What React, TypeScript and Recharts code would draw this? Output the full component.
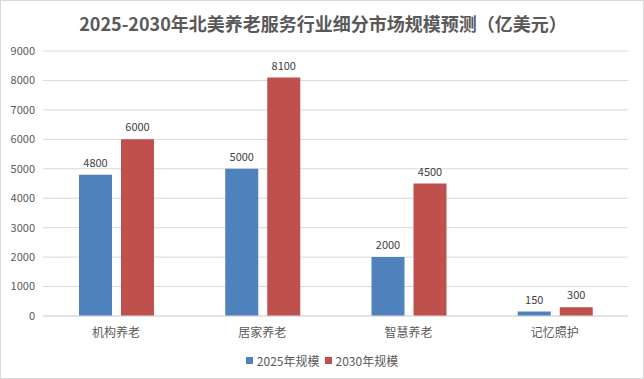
import React from 'react';
import { BarChart, Bar, XAxis, YAxis, CartesianGrid, Legend, LabelList } from 'recharts';

const categories = ['机构养老', '居家养老', '智慧养老', '记忆照护'];
const values2025 = [4800, 5000, 2000, 150];
const values2030 = [6000, 8100, 4500, 300];
const yTicks = [0, 1000, 2000, 3000, 4000, 5000, 6000, 7000, 8000, 9000];
const seriesNames = ['2025年规模', '2030年规模'];
const colors = ['#4F81BD', '#C0504D'];

const data = categories.map((c, i) => ({ name: c, a: values2025[i], b: values2030[i] }));

const FONT = '"Noto Sans CJK SC", "Noto Sans", sans-serif';

const LegendContent = () => (
  <div style={{ display: 'flex', justifyContent: 'center', paddingTop: 6, fontFamily: FONT, fontSize: 12, color: '#595959' }}>
    {seriesNames.map((n, i) => (
      <div key={n} style={{ display: 'flex', alignItems: 'center', marginLeft: i ? 5 : 0 }}>
        <span style={{ display: 'inline-block', width: 7, height: 7, background: colors[i], marginRight: 4 }} />
        <span>{n}</span>
      </div>
    ))}
  </div>
);

export default function App() {
  return (
    <div style={{ position: 'fixed', left: 0, top: 0, width: 644, height: 379, background: '#fff', boxSizing: 'border-box', border: '1px solid #d9d9d9' }}>
      <div style={{ position: 'absolute', top: 9, left: 0, width: 644, textAlign: 'center', fontFamily: FONT, fontWeight: 700, fontSize: 18, color: '#595959', lineHeight: '26px' }}>
        2025-2030年北美养老服务行业细分市场规模预测（亿美元）
      </div>
      <div style={{ position: 'absolute', left: -1, top: -1 }}>
        <BarChart width={644} height={379} data={data} margin={{ top: 51, right: 16, left: 0, bottom: 0 }} barGap={9} barCategoryGap={36}>
          <CartesianGrid vertical={false} stroke="#d9d9d9" />
          <XAxis dataKey="name" height={30} tickLine={false} axisLine={{ stroke: '#d9d9d9' }} tick={{ fontFamily: FONT, fontSize: 12, fill: '#595959' }} tickMargin={6} />
          <YAxis width={43} domain={[0, 9000]} ticks={yTicks} interval={0} axisLine={false} tickLine={false} tick={{ fontFamily: FONT, fontSize: 11, fill: '#595959' }} tickMargin={2} />
          <Legend verticalAlign="bottom" height={33} content={<LegendContent />} wrapperStyle={{ left: 0, width: 644 }} />
          <Bar dataKey="a" name={seriesNames[0]} fill={colors[0]} isAnimationActive={false}>
            <LabelList dataKey="a" position="top" offset={8} style={{ fontFamily: FONT, fontSize: 11, fill: '#404040' }} />
          </Bar>
          <Bar dataKey="b" name={seriesNames[1]} fill={colors[1]} isAnimationActive={false}>
            <LabelList dataKey="b" position="top" offset={8} style={{ fontFamily: FONT, fontSize: 11, fill: '#404040' }} />
          </Bar>
        </BarChart>
      </div>
    </div>
  );
}
